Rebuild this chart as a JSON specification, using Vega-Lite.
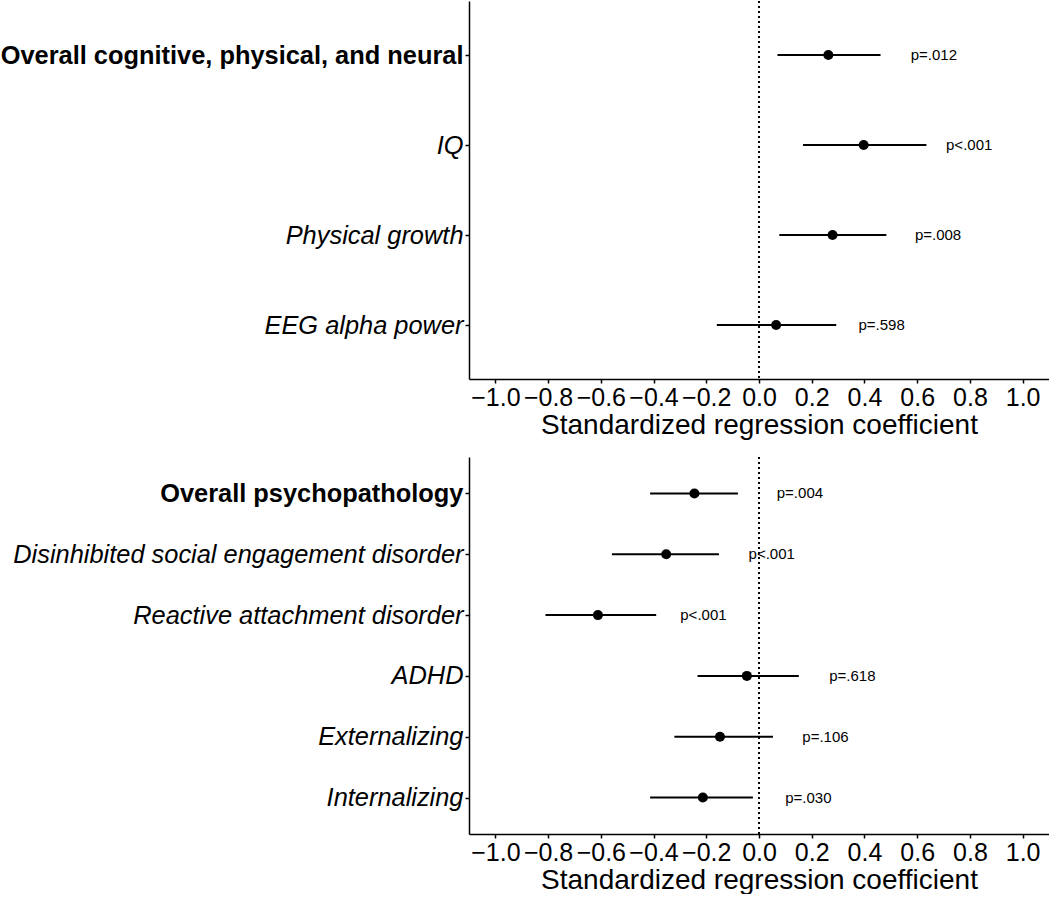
{
  "$schema": "https://vega.github.io/schema/vega-lite/v6.json",
  "padding": {"left": 0, "top": 0, "right": 0, "bottom": 0},
  "background": "white",
  "config": {
    "font": "Liberation Sans",
    "view": {"stroke": null},
    "concat": {"spacing": 17},
    "axis": {
      "grid": false,
      "domainColor": "black",
      "domainWidth": 1.5,
      "tickColor": "black",
      "tickWidth": 1.5,
      "tickSize": 4,
      "labelColor": "black",
      "titleColor": "black",
      "labelPadding": 2
    }
  },
  "datasets": {
    "cog": [
      {"label": "Overall cognitive, physical, and neural", "est": 0.263, "lo": 0.070, "hi": 0.461, "p": "p=.012"},
      {"label": "IQ", "est": 0.397, "lo": 0.167, "hi": 0.635, "p": "p<.001"},
      {"label": "Physical growth", "est": 0.279, "lo": 0.077, "hi": 0.483, "p": "p=.008"},
      {"label": "EEG alpha power", "est": 0.065, "lo": -0.160, "hi": 0.293, "p": "p=.598"}
    ],
    "psy": [
      {"label": "Overall psychopathology", "est": -0.245, "lo": -0.413, "hi": -0.080, "p": "p=.004"},
      {"label": "Disinhibited social engagement disorder", "est": -0.352, "lo": -0.558, "hi": -0.152, "p": "p<.001"},
      {"label": "Reactive attachment disorder", "est": -0.611, "lo": -0.810, "hi": -0.390, "p": "p<.001"},
      {"label": "ADHD", "est": -0.046, "lo": -0.233, "hi": 0.151, "p": "p=.618"},
      {"label": "Externalizing", "est": -0.148, "lo": -0.321, "hi": 0.053, "p": "p=.106"},
      {"label": "Internalizing", "est": -0.213, "lo": -0.413, "hi": -0.023, "p": "p=.030"}
    ]
  },
  "vconcat": [
    {
      "width": 580,
      "height": 378,
      "data": {"name": "cog"},
      "encoding": {
        "y": {
          "field": "label", "type": "nominal", "sort": null,
          "scale": {"type": "point", "padding": 0.6},
          "axis": {
            "title": null,
            "labelFontSize": 25.4,
            "labelLimit": 0,
            "labelFontWeight": {"condition": {"test": "indexof(datum.value, 'Overall') === 0", "value": "bold"}, "value": "normal"},
            "labelFontStyle": {"condition": {"test": "indexof(datum.value, 'Overall') === 0", "value": "normal"}, "value": "italic"}
          }
        }
      },
      "layer": [
        {
          "mark": {"type": "rule", "strokeDash": [2, 3], "strokeWidth": 1.5, "color": "black"},
          "encoding": {"x": {"datum": 0, "type": "quantitative"}, "y": null}
        },
        {
          "mark": {"type": "rule", "strokeWidth": 2, "color": "black"},
          "encoding": {
            "x": {
              "field": "lo", "type": "quantitative",
              "scale": {"domain": [-1.1, 1.1], "nice": false, "zero": false},
              "axis": {
                "title": "Standardized regression coefficient",
                "values": [-1, -0.8, -0.6, -0.4, -0.2, 0, 0.2, 0.4, 0.6, 0.8, 1],
                "format": ".1f",
                "labelFontSize": 25,
                "titleFontSize": 28,
                "titleFontWeight": "normal",
                "titlePadding": 1
              }
            },
            "x2": {"field": "hi"}
          }
        },
        {
          "mark": {"type": "point", "filled": true, "size": 100, "color": "black", "opacity": 1},
          "encoding": {"x": {"field": "est", "type": "quantitative"}}
        },
        {
          "mark": {"type": "text", "dx": 105.5, "fontSize": 15, "color": "black", "align": "center", "baseline": "middle"},
          "encoding": {"x": {"field": "est", "type": "quantitative"}, "text": {"field": "p"}}
        }
      ]
    },
    {
      "width": 580,
      "height": 377,
      "data": {"name": "psy"},
      "encoding": {
        "y": {
          "field": "label", "type": "nominal", "sort": null,
          "scale": {"type": "point", "padding": 0.6},
          "axis": {
            "title": null,
            "labelFontSize": 25.4,
            "labelLimit": 0,
            "labelFontWeight": {"condition": {"test": "indexof(datum.value, 'Overall') === 0", "value": "bold"}, "value": "normal"},
            "labelFontStyle": {"condition": {"test": "indexof(datum.value, 'Overall') === 0", "value": "normal"}, "value": "italic"}
          }
        }
      },
      "layer": [
        {
          "mark": {"type": "rule", "strokeDash": [2, 3], "strokeWidth": 1.5, "color": "black"},
          "encoding": {"x": {"datum": 0, "type": "quantitative"}, "y": null}
        },
        {
          "mark": {"type": "rule", "strokeWidth": 2, "color": "black"},
          "encoding": {
            "x": {
              "field": "lo", "type": "quantitative",
              "scale": {"domain": [-1.1, 1.1], "nice": false, "zero": false},
              "axis": {
                "title": "Standardized regression coefficient",
                "values": [-1, -0.8, -0.6, -0.4, -0.2, 0, 0.2, 0.4, 0.6, 0.8, 1],
                "format": ".1f",
                "labelFontSize": 25,
                "titleFontSize": 28,
                "titleFontWeight": "normal",
                "titlePadding": 1
              }
            },
            "x2": {"field": "hi"}
          }
        },
        {
          "mark": {"type": "point", "filled": true, "size": 100, "color": "black", "opacity": 1},
          "encoding": {"x": {"field": "est", "type": "quantitative"}}
        },
        {
          "mark": {"type": "text", "dx": 105.5, "fontSize": 15, "color": "black", "align": "center", "baseline": "middle"},
          "encoding": {"x": {"field": "est", "type": "quantitative"}, "text": {"field": "p"}}
        }
      ]
    }
  ]
}
